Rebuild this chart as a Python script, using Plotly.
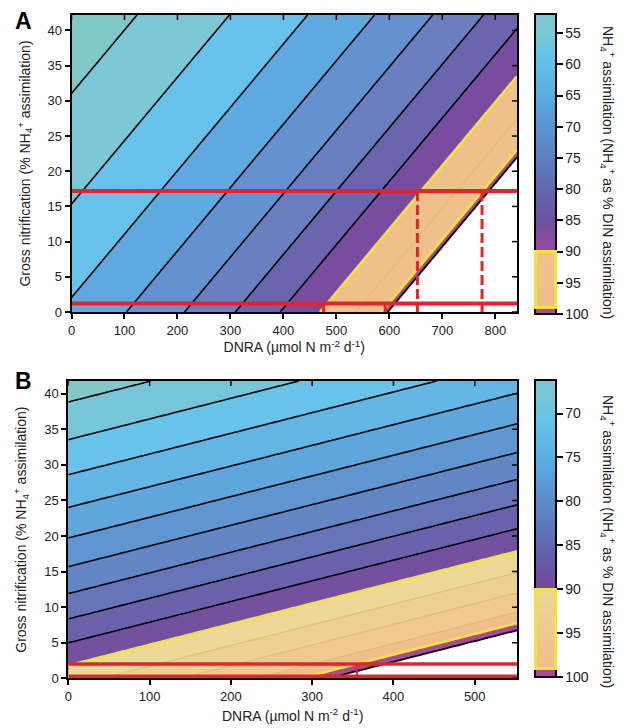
import numpy as np
import plotly.graph_objects as go

# ------------------------------------------------------------------
# DATA
# ------------------------------------------------------------------
# NH4+ assimilation (% of DIN assimilation) = 100*A / (A + C + S*nitrif - DNRA)
A_assim, A_supply, A_nitscale = 1151.0, 597.0, 11.1
B_assim, B_supply, B_nitscale = 3440.0, 320.0, 34.4

A_xmax, A_ymax = 841.0, 42.2
B_xmax, B_ymax = 552.0, 41.8

A_xticks = [0, 100, 200, 300, 400, 500, 600, 700, 800]
B_xticks = [0, 100, 200, 300, 400, 500]
y_ticks = [0, 5, 10, 15, 20, 25, 30, 35, 40]

# contour levels
A_black = [55, 60, 65, 70, 75, 80, 85]
A_black_end = [100]
A_yellow = [90, 99]
A_faint = [95]
B_black = [67.5, 70, 72.5, 75, 77.5, 80, 82.5, 85, 87.5]
B_black_end = [100]
B_yellow = [90, 99]
B_faint = [92.5, 95, 97.5]

# filled bands (edges and colours from below the first edge to above the last)
A_edges = [55, 60, 65, 70, 75, 80, 85, 90, 99, 100]
A_colors = ['#80c8c8', '#7bc7d6', '#66c2ea', '#5eaae0', '#6492d0', '#6a7ec0',
            '#6a66ae', '#7a4ca0', '#f0c08a', '#a8489c', '#ffffff']
B_edges = [67.5, 70, 72.5, 75, 77.5, 80, 82.5, 85, 87.5, 90, 92.5, 95, 97.5, 99, 100]
B_colors = ['#82c8c8', '#76c6da', '#68c3ea', '#62b6e6', '#5ea6dc', '#5e96d2',
            '#6286c6', '#6674b8', '#6a62aa', '#74509e', '#ecd898', '#eed094',
            '#f0c890', '#f0be8a', '#a8489c', '#ffffff']

# colour-bar gradients (value, colour)
A_cb_stops = [(55, '#7ac8d2'), (59, '#62c2ea'), (63, '#5cb4e6'), (67, '#58a2dc'),
              (71, '#5a90cf'), (75, '#5e7ec2'), (80, '#6068ae'), (85, '#6c52a2'),
              (90, '#9c46a0'), (90, '#f0c28c'), (99, '#f0bc88'), (99, '#b0449c'),
              (100, '#b0449c')]
B_cb_stops = [(68, '#76c6d8'), (71, '#64c2ea'), (74, '#5cb4e6'), (77, '#58a2dc'),
              (80, '#5a8ccc'), (83, '#5e76bc'), (86, '#6460ac'), (90, '#7446a0'),
              (90, '#ecd89a'), (99, '#f0bc88'), (99, '#b0449c'), (100, '#b0449c')]
A_cb_ticks = [55, 60, 65, 70, 75, 80, 85, 90, 95, 100]
B_cb_ticks = [70, 75, 80, 85, 90, 95, 100]
cb_box = [90, 99]          # yellow-framed block of each colour bar

# red reference lines
A_red_y = [17.2, 1.2]
A_dash_x_upper = [653, 775]
A_dash_x_lower = [476, 592]
B_red_y = [2.0, 0.3]
B_red_vx = [355]

RED = '#e62329'
YELLOW = '#f2e33c'
FONT = 'Arial, Liberation Sans, sans-serif'
W, H = 631, 728

# ------------------------------------------------------------------
def field(A, C, S, xmax, ymax):
    x = np.linspace(0, xmax, 161)
    y = np.linspace(0, ymax, 161)
    X, Y = np.meshgrid(x, y)
    Z = 100.0 * A / (A + C + S * Y - X)
    return x, y, Z


def fill_scale(start, end, size, edges, colors):
    nc = int(np.floor((end + size / 1e6 - start) / size)) + 1
    lo = start - size / 2.0
    span = nc * size
    f = lambda v: (v - lo) / span
    cs = [[0.0, colors[0]]]
    for e, cb, ca in zip(edges, colors[:-1], colors[1:]):
        cs.append([f(e), cb])
        cs.append([f(e), ca])
    cs.append([1.0, colors[-1]])
    return cs


def level_trace(x, y, Z, levels, color, width, xa, ya):
    lv = sorted(levels)
    size = (lv[1] - lv[0]) if len(lv) > 1 else 1
    return go.Contour(x=x, y=y, z=Z, xaxis=xa, yaxis=ya, autocontour=False,
                      contours=dict(start=lv[0], end=lv[-1], size=size,
                                    coloring='none', showlines=True),
                      line=dict(color=color, width=width, smoothing=0),
                      showscale=False, hoverinfo='skip')


def cbar_scale(stops, vmin):
    st = [(vmin, stops[0][1])] + list(stops)
    out = [[(100 - v) / (100 - vmin), c] for v, c in st]
    out = out[::-1]
    out[0][0] = 0.0
    out[-1][0] = 1.0
    return out


fig = go.Figure()

A_dom_x = [71.5 / W, 517 / W]
A_dom_y = [1 - 312 / H, 1 - 15 / H]
B_dom_x = [68.3 / W, 517 / W]
B_dom_y = [1 - 678.3 / H, 1 - 381 / H]

panels = [
    dict(A=A_assim, C=A_supply, S=A_nitscale, xmax=A_xmax, ymax=A_ymax, xa='x', ya='y',
         start=51, size=1, edges=A_edges, colors=A_colors,
         black=A_black, black_end=A_black_end, yellow=A_yellow, faint=A_faint,
         stops=A_cb_stops, ticks=A_cb_ticks, cb_top=14, cb_bot=314,
         xticks=A_xticks, domx=A_dom_x, domy=A_dom_y),
    dict(A=B_assim, C=B_supply, S=B_nitscale, xmax=B_xmax, ymax=B_ymax, xa='x2', ya='y2',
         start=66, size=0.5, edges=B_edges, colors=B_colors,
         black=B_black, black_end=B_black_end, yellow=B_yellow, faint=B_faint,
         stops=B_cb_stops, ticks=B_cb_ticks, cb_top=380, cb_bot=677,
         xticks=B_xticks, domx=B_dom_x, domy=B_dom_y),
]

for p in panels:
    x, y, Z = field(p['A'], p['C'], p['S'], p['xmax'], p['ymax'])
    fig.add_trace(go.Contour(
        x=x, y=y, z=Z, xaxis=p['xa'], yaxis=p['ya'], autocontour=False,
        contours=dict(start=p['start'], end=100, size=p['size'], coloring='fill',
                      showlines=False),
        colorscale=fill_scale(p['start'], 100, p['size'], p['edges'], p['colors']),
        line=dict(width=0), showscale=False, hoverinfo='skip'))
    fig.add_trace(level_trace(x, y, Z, p['faint'], '#d2bd68', 0.9, p['xa'], p['ya']))
    fig.add_trace(level_trace(x, y, Z, p['black'], 'black', 1.6, p['xa'], p['ya']))
    fig.add_trace(level_trace(x, y, Z, p['black_end'], 'black', 1.8, p['xa'], p['ya']))
    fig.add_trace(level_trace(x, y, Z, p['yellow'], YELLOW, 2.6, p['xa'], p['ya']))

    # colour bar (reversed: low values at the top)
    vmin = float(Z[-1, 0])
    top, bot = p['cb_top'], p['cb_bot']
    fig.add_trace(go.Scatter(
        x=[0, 0], y=[0, 0], xaxis=p['xa'], yaxis=p['ya'], mode='markers',
        marker=dict(size=1, opacity=0, color=[-100, -vmin], cmin=-100, cmax=-vmin,
                    colorscale=cbar_scale(p['stops'], vmin), showscale=True,
                    colorbar=dict(x=535 / W, xanchor='left', xpad=0,
                                  y=1 - (top + bot) / 2 / H, yanchor='middle', ypad=0,
                                  len=(bot - top) / H, lenmode='fraction',
                                  thickness=21, thicknessmode='pixels',
                                  outlinewidth=2, outlinecolor='black',
                                  tickmode='array', tickvals=[-t for t in p['ticks']],
                                  ticktext=[str(t) for t in p['ticks']],
                                  ticks='outside', ticklen=6, tickwidth=1.5,
                                  tickcolor='black',
                                  tickfont=dict(size=14, color='#222', family=FONT))),
        showlegend=False, hoverinfo='skip'))
    # yellow frame around the 90-99 block of the colour bar (annotation box sits above the bar)
    pxv = lambda v: top + (v - vmin) * (bot - top) / (100 - vmin)
    y_hi, y_lo = pxv(cb_box[0]), pxv(cb_box[1])
    fig.add_annotation(text='&nbsp;', xref='paper', yref='paper',
                       x=(535 + 556) / 2 / W, y=1 - (y_hi + y_lo) / 2 / H,
                       xanchor='center', yanchor='middle', showarrow=False,
                       width=21 - 4, height=(y_lo - y_hi) - 3, borderpad=0,
                       bordercolor=YELLOW, borderwidth=3, bgcolor='rgba(0,0,0,0)',
                       font=dict(size=1))

    # inward ticks on the top and right frame edges
    x0d, x1d = p['domx']
    y0d, y1d = p['domy']
    for xv in p['xticks']:
        fig.add_shape(type='line', xref=p['xa'], yref='paper', x0=xv, x1=xv,
                      y0=y1d, y1=y1d - 5 / H, line=dict(color='black', width=1.5))
    for yv in y_ticks:
        fig.add_shape(type='line', xref='paper', yref=p['ya'], y0=yv, y1=yv,
                      x0=x1d, x1=x1d - 5 / W, line=dict(color='black', width=1.5))

# red lines panel A
for yv in A_red_y:
    fig.add_trace(go.Scatter(x=[0, A_xmax], y=[yv, yv], mode='lines', xaxis='x', yaxis='y',
                             line=dict(color=RED, width=4), showlegend=False, hoverinfo='skip'))
for xs, yv in [(A_dash_x_upper, A_red_y[0]), (A_dash_x_lower, A_red_y[1])]:
    for xv in xs:
        fig.add_trace(go.Scatter(x=[xv, xv], y=[yv, 0], mode='lines', xaxis='x', yaxis='y',
                                 line=dict(color=RED, width=3, dash='10px,4px'),
                                 showlegend=False, hoverinfo='skip'))
# red lines panel B
for yv in B_red_y:
    fig.add_trace(go.Scatter(x=[0, B_xmax], y=[yv, yv], mode='lines', xaxis='x2', yaxis='y2',
                             line=dict(color=RED, width=3.5), showlegend=False, hoverinfo='skip'))
for xv in B_red_vx:
    fig.add_trace(go.Scatter(x=[xv, xv], y=B_red_y, mode='lines', xaxis='x2', yaxis='y2',
                             line=dict(color=RED, width=2), showlegend=False, hoverinfo='skip'))

# ------------------------------------------------------------------
ax_common = dict(showline=True, linewidth=2, linecolor='black', mirror=True,
                 showgrid=False, zeroline=False, ticks='outside', ticklen=5,
                 tickwidth=1.5, tickcolor='black',
                 tickfont=dict(size=13, color='#222', family=FONT))
ytitle = 'Gross nitrification (% NH<sub>4</sub><sup>+</sup> assimilation)'
xtitle = 'DNRA (µmol N m<sup>-2</sup> d<sup>-1</sup>)'
title_font = dict(size=14, color='#222', family=FONT)

fig.update_layout(
    width=W, height=H, margin=dict(l=0, r=0, t=0, b=0, autoexpand=False),
    paper_bgcolor='white', plot_bgcolor='white', showlegend=False,
    font=dict(family=FONT, color='#222'),
    xaxis=dict(ax_common, domain=A_dom_x, anchor='y', range=[0, A_xmax], tickvals=A_xticks,
               title=dict(text=xtitle, font=title_font, standoff=6)),
    yaxis=dict(ax_common, domain=A_dom_y, anchor='x', range=[0, A_ymax], tickvals=y_ticks,
               title=dict(text=ytitle, font=title_font, standoff=14)),
    xaxis2=dict(ax_common, domain=B_dom_x, anchor='y2', range=[0, B_xmax], tickvals=B_xticks,
                title=dict(text=xtitle, font=title_font, standoff=8)),
    yaxis2=dict(ax_common, domain=B_dom_y, anchor='x2', range=[0, B_ymax], tickvals=y_ticks,
                title=dict(text=ytitle, font=title_font, standoff=14)),
)

cb_title = 'NH<sub>4</sub><sup>+</sup> assimilation (NH<sub>4</sub><sup>+</sup> as % DIN assimilation)'
fig.add_annotation(text='<b>A</b>', x=13 / W, y=1 - 21 / H, xref='paper', yref='paper',
                   xanchor='left', yanchor='middle', showarrow=False,
                   font=dict(size=23, color='black', family=FONT))
fig.add_annotation(text='<b>B</b>', x=13 / W, y=1 - 381 / H, xref='paper', yref='paper',
                   xanchor='left', yanchor='middle', showarrow=False,
                   font=dict(size=23, color='black', family=FONT))
for cy in [172, 541]:
    fig.add_annotation(text=cb_title, x=608 / W, y=1 - cy / H, xref='paper', yref='paper',
                       xanchor='center', yanchor='middle', textangle=90, showarrow=False,
                       font=dict(size=14, color='#222', family=FONT))

fig.write_html('out.html')
